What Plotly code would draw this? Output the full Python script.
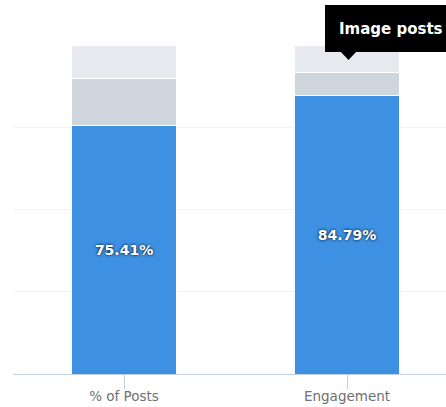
import plotly.graph_objects as go

categories = ["% of Posts", "Engagement"]
image_posts = [75.41, 84.79]
mid_series = [14.48, 6.88]
top_series = [10.11, 8.33]
labels = ["75.41%", "84.79%"]

fig = go.Figure()
fig.add_trace(go.Bar(
    x=categories, y=image_posts, name="Image posts",
    marker=dict(color="#3D90E2", line=dict(color="#FFFFFF", width=1)),
    text=labels, textposition="inside", insidetextanchor="middle",
    textfont=dict(family="DejaVu Sans", size=14, color="#FFFFFF", weight="bold",
                  shadow="0px 0px 3px #000000"),
    width=0.475, hoverinfo="skip"))
fig.add_trace(go.Bar(
    x=categories, y=mid_series, name="Other",
    marker=dict(color="#CFD6DD", line=dict(color="#FFFFFF", width=1)),
    width=0.475, hoverinfo="skip"))
fig.add_trace(go.Bar(
    x=categories, y=top_series, name="Rest",
    marker=dict(color="#E6E9EE", line=dict(color="#FFFFFF", width=1)),
    width=0.475, hoverinfo="skip"))

W, H = 446, 407
L, T, B = 13, 45, 33
pw, ph = W - L, H - T - B

def px(x):
    return (x - L) / pw

def py(y):
    return (H - B - y) / ph

fig.update_layout(
    width=W, height=H, barmode="stack", showlegend=False,
    margin=dict(l=L, r=0, t=T, b=B, pad=0),
    plot_bgcolor="#FFFFFF", paper_bgcolor="#FFFFFF",
    hovermode=False,
    xaxis=dict(range=[-0.498, 1.444], showgrid=False, showline=True,
               linecolor="#C0D0E0", linewidth=1, ticks="outside", ticklen=14,
               tickcolor="#C0D0E0", ticklabelstandoff=-4,
               tickfont=dict(family="DejaVu Sans", size=13.5, color="#707070"),
               fixedrange=True),
    yaxis=dict(range=[0, 100], dtick=25, showgrid=True, gridcolor="#F2F2F2",
               showticklabels=False, zeroline=False, showline=False,
               fixedrange=True),
    shapes=[
        dict(type="rect", xref="paper", yref="paper",
             x0=px(325), x1=px(470), y0=py(52), y1=py(5),
             fillcolor="#000000", line=dict(width=0), layer="above"),
        dict(type="path", xref="paper", yref="paper",
             path=f"M {px(340)} {py(51)} L {px(357)} {py(51)} L {px(348.5)} {py(60)} Z",
             fillcolor="#000000", line=dict(width=0), layer="above"),
    ],
    annotations=[
        dict(text="Image posts", xref="paper", yref="paper",
             x=px(337), y=py(29), xanchor="left", yanchor="middle",
             showarrow=False,
             font=dict(family="DejaVu Sans", size=15, color="#FFFFFF", weight="bold")),
    ],
)

fig.write_html(
    "out.html",
    config={"displayModeBar": False},
    post_script="document.body.style.margin='0';document.body.style.overflow='hidden';",
)
